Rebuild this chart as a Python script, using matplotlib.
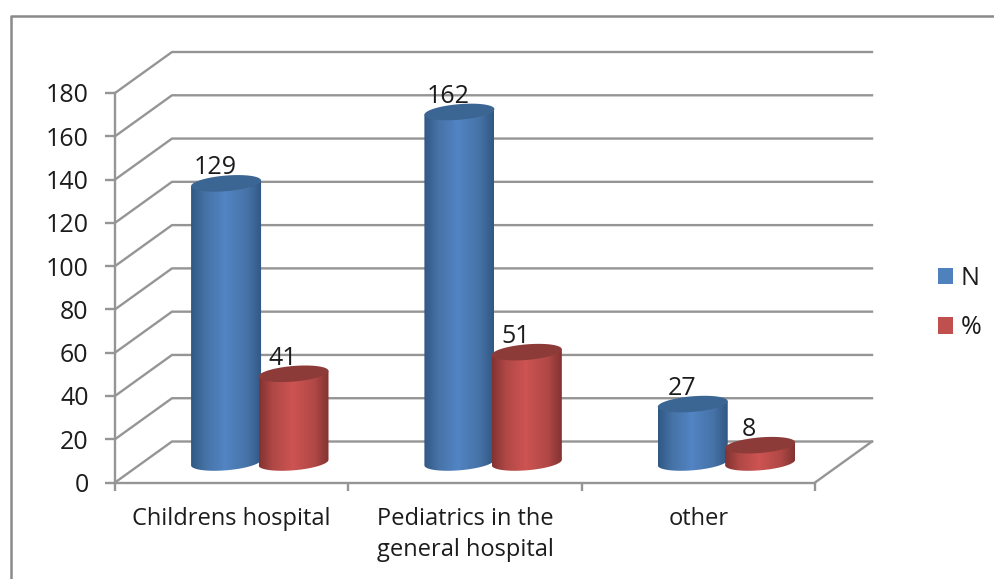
import numpy as np
import matplotlib
matplotlib.use("Agg")
import matplotlib.pyplot as plt
from matplotlib.colors import LinearSegmentedColormap
from matplotlib.lines import Line2D
from matplotlib.patches import Patch, Polygon

categories = ["Childrens hospital", "Pediatrics in the\ngeneral hospital", "other"]
series_names = ["N", "%"]
n_values = [129, 162, 27]
pct_values = [41, 51, 8]
y_ticks = list(range(0, 181, 20))

W, H = 995, 579
LEFT, RIGHT, TOP, BOTTOM = 115, 815, 93, 482.5
PX_X = (RIGHT - LEFT) / 3
PX_Y = (BOTTOM - TOP) / 180
GRID = "#959595"
TEXT = "#1c1c1c"
NUM_SIZE = 18
LABEL_SIZE = 17

plt.rcParams["font.family"] = ["Open Sans", "DejaVu Sans"]
plt.rcParams["font.size"] = NUM_SIZE

fig = plt.figure(figsize=(W / 100, H / 100), dpi=100, facecolor="white")
ax = fig.add_axes([LEFT / W, 1 - BOTTOM / H, (RIGHT - LEFT) / W, (BOTTOM - TOP) / H])
ax.set_facecolor("none")

# Chart frame around the plot: only the left and top edges are present
fig.add_artist(Line2D([11 / W, 11 / W, 1], [0, 1 - 16 / H, 1 - 16 / H],
                      color="#8a8a8a", lw=1.8, transform=fig.transFigure))

# Receding floor and side wall with the back-wall gridlines
depth_x = 57 / PX_X
depth_y = 41 / PX_Y
for v in y_ticks:
    ax.plot([0, depth_x, 3 + depth_x], [v, v + depth_y, v + depth_y],
            color=GRID, lw=1.7, clip_on=False, zorder=1, solid_joinstyle="miter")
ax.plot([3, 3 + depth_x], [0, depth_y], color=GRID, lw=1.7, clip_on=False, zorder=1)


def draw_cylinder(center, value, dark, mid, light, lid):
    """Upright cylinder in axis units, with a sheared elliptical base and lid."""
    half_w = 35 / PX_X
    minor = 7.8 / PX_Y
    slant = 2.8 / PX_Y
    base = 20 / PX_Y
    top = base + value

    t = np.linspace(0, 2 * np.pi, 120)
    lid_pts = np.column_stack([center + half_w * np.cos(t),
                               top + slant * np.cos(t) + minor * np.sin(t)])
    t_low = np.linspace(np.pi, 2 * np.pi, 60)
    low_pts = np.column_stack([center + half_w * np.cos(t_low),
                               base + slant * np.cos(t_low) + minor * np.sin(t_low)])
    outline = np.vstack([low_pts,
                         [center + half_w, top + slant],
                         [center - half_w, top - slant]])

    cmap = LinearSegmentedColormap.from_list(
        "shade", [(0, dark), (0.2, mid), (0.48, light), (0.8, mid), (1, dark)])
    body = Polygon(outline, closed=True, transform=ax.transData, fc="none", ec="none", zorder=3)
    ax.add_patch(body)
    im = ax.imshow(np.linspace(0, 1, 128).reshape(1, -1), cmap=cmap, aspect="auto",
                   extent=[center - half_w, center + half_w, 0, 180],
                   interpolation="bilinear", zorder=3)
    im.set_clip_path(body)
    ax.add_patch(Polygon(lid_pts, closed=True, fc=lid, ec="none", zorder=3))
    ax.text(center - 11 / PX_X, top + 15.5 / PX_Y, str(value), ha="center", va="center",
            color=TEXT, zorder=4)


for i, (n, pct) in enumerate(zip(n_values, pct_values)):
    draw_cylinder(i + 0.476, n, "#315884", "#4672a6", "#5285c4", "#3b6592")
    draw_cylinder(i + 0.765, pct, "#823331", "#b04846", "#cd5452", "#8c3b38")

ax.set_xlim(0, 3)
ax.set_ylim(0, 180)

for side in ("top", "right"):
    ax.spines[side].set_visible(False)
for side in ("left", "bottom"):
    ax.spines[side].set_color(GRID)
    ax.spines[side].set_linewidth(1.7)

ax.set_yticks(y_ticks)
ax.set_xticks(range(4))
ax.set_xticklabels([])
ax.set_xticks([i + 0.5 for i in range(3)], minor=True)
ax.set_xticklabels(categories, minor=True, linespacing=1.42, fontsize=LABEL_SIZE)
ax.tick_params(axis="y", length=7, width=1.7, color=GRID, labelcolor=TEXT, pad=12)
ax.tick_params(axis="x", which="major", length=6, width=1.7, color=GRID)
ax.tick_params(axis="x", which="minor", length=0, labelcolor=TEXT, pad=17.5)

handles = [Patch(fc="#4f81bd", ec="none"), Patch(fc="#c0504d", ec="none")]
fig.legend(handles, series_names, loc="center left", frameon=False,
           bbox_to_anchor=(938 / W, 1 - 303 / H), labelspacing=0.98, handlelength=0.62,
           handleheight=0.62, handletextpad=0.28, borderpad=0, borderaxespad=0,
           labelcolor=TEXT)

fig.savefig("out.png", dpi=100)
